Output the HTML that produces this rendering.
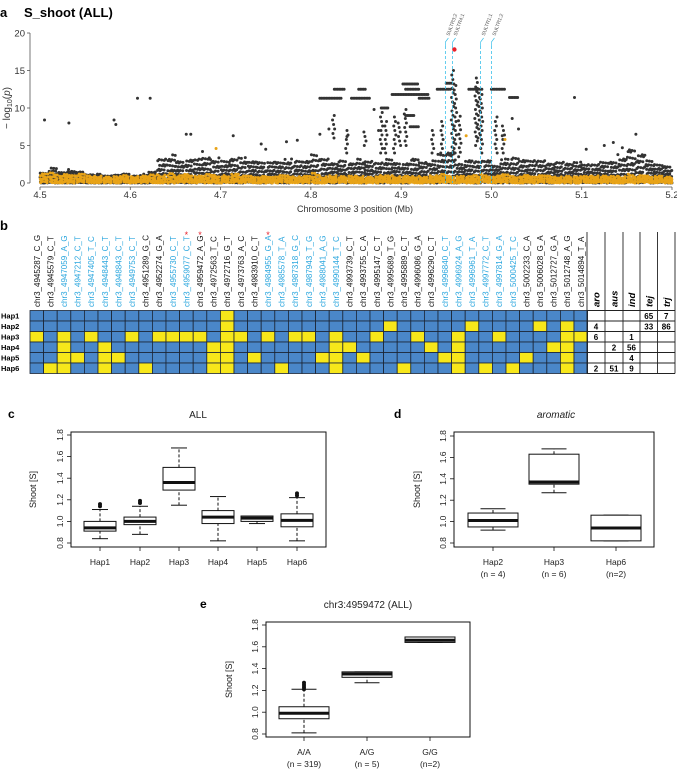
<!DOCTYPE html>
<html><head><meta charset="utf-8"><style>
html,body{margin:0;padding:0;background:#fff}
svg{display:block;font-family:"Liberation Sans",Arial,sans-serif}
</style></head><body>
<svg id="fig" width="677" height="772" viewBox="0 0 677 772">
<g id="pa"></g>
<g id="pb"></g>
<g id="pc"></g>
<g id="pd"></g>
<g id="pe"></g>
</svg>
<script>
// ---------- Panel a data ----------
const xTicks = [4.5,4.6,4.7,4.8,4.9,5.0,5.1,5.2];
const yTicks = [0,5,10,15,20];
const binStart = [4.50,4.51,4.52,4.53,4.54,4.55,4.56,4.57,4.58,4.59,4.60,4.61,4.62,4.63,4.64,4.65,4.66,4.67,4.68,4.69,4.70,4.71,4.72,4.73,4.74,4.75,4.76,4.77,4.78,4.79,4.80,4.81,4.82,4.83,4.84,4.85,4.86,4.87,4.88,4.89,4.90,4.91,4.92,4.93,4.94,4.95,4.96,4.97,4.98,4.99,5.00,5.01,5.02,5.03,5.04,5.05,5.06,5.07,5.08,5.09,5.10,5.11,5.12,5.13,5.14,5.15,5.16,5.17,5.18,5.19];
const binHeight = [1.5,2.0,1.5,1.8,1.5,1.2,1.2,1.0,1.2,1.2,1.0,1.2,1.5,3.5,3.8,3.0,3.5,3.2,3.6,3.4,3.0,3.5,3.4,3.0,3.2,2.8,3.0,3.2,3.0,3.2,3.8,3.4,3.0,3.0,2.8,3.2,3.0,3.0,3.2,2.8,3.0,3.2,3.0,3.0,4.0,4.5,2.5,3.2,3.4,3.0,2.5,3.2,3.5,3.4,3.0,3.2,3.0,2.8,2.8,2.8,2.6,2.8,2.8,3.0,3.8,4.5,4.2,3.0,2.6,2.5];
const orangeHeight = [1.3,1.5,1.3,1.2,1.2,1.0,1.0,0.9,1.0,1.0,0.9,1.0,1.2,1.2,1.5,1.0,1.2,1.0,1.3,1.2,1.0,1.2,1.0,1.0,1.0,0.9,1.0,1.0,0.9,1.0,1.5,1.0,1.0,0.9,1.0,1.0,0.9,1.0,1.0,0.9,1.0,1.0,0.9,1.0,1.2,1.0,1.0,1.0,1.2,1.0,1.0,1.2,1.0,1.2,1.0,1.0,1.0,0.9,1.0,1.0,0.9,1.0,1.0,1.0,1.0,1.2,1.0,1.0,1.0,0.9];
const isoPos = [4.505,4.532,4.582,4.584,4.608,4.622,4.662,4.667,4.714,4.745,4.773,4.785,4.81,4.82,4.84,4.87,4.875,5.092,5.16,5.135,5.125,5.105,5.145,5.012,5.015,5.023,4.972,5.03,4.75,4.695,4.68];
const isoVal = [8.4,8.0,8.4,7.8,11.3,11.3,6.5,6.5,6.3,5.2,5.5,5.7,6.5,7.2,6.2,9.8,7.0,11.4,6.5,5.4,5.0,4.5,4.7,6.3,5.8,8.6,6.3,7.2,4.5,4.6,4.2];
const isoOrange = [0,0,0,0,0,0,0,0,0,0,0,0,0,0,0,0,0,0,0,0,0,0,0,0,1,0,1,0,0,1,0];
const segFrom = [4.810,4.826,4.845,4.853,4.890,4.905,4.902,4.905,4.910,4.920,4.940,4.950,4.975,5.000,5.020,4.878];
const segTo   = [4.835,4.838,4.865,4.862,4.930,4.920,4.920,4.915,4.920,4.932,4.955,4.956,4.990,5.015,5.030,4.886];
const segVal  = [11.3,12.5,11.3,12.5,11.8,12.5,13.2,9.0,7.5,11.3,12.5,13.3,12.5,12.5,11.4,10.0];
const colPos = [4.957,4.960,4.983,4.986,4.989,4.878,4.883,4.893,4.898,4.905,4.860,4.825,4.840,4.945,4.965,4.935,5.005,5.013];
const colLo  = [3.0,4.0,5.0,6.0,4.0,4.0,4.0,4.0,5.0,5.0,5.0,6.0,4.0,4.0,3.5,4.0,4.0,4.0];
const colHi  = [15.0,13.0,14.0,13.0,12.0,9.5,8.5,9.0,8.0,10.0,7.0,9.0,7.0,8.5,9.0,7.0,9.0,8.0];
const geneNames = ["SULTR3;2","SULTR4;1","SULTR1;1","SULTR1;2"];
const genePos = [4.949,4.957,4.988,5.000];
const topHitPos = 4.959, topHitVal = 17.8;

const NS='http://www.w3.org/2000/svg';
function mk(tag, attrs, parent, txt){
  const e=document.createElementNS(NS,tag);
  for(const k in attrs) e.setAttribute(k,attrs[k]);
  if(txt!==undefined) e.textContent=txt;
  parent.appendChild(e); return e;
}
const frac = v => v - Math.floor(v);
const pa=document.getElementById('pa');
const ax = v => 40 + (v-4.5)/0.7*632;
const ay = v => 183 - v*7.5;
let t;
t=mk('text',{x:0,y:17,'font-size':13,'font-weight':'bold'},pa,'a');


t=mk('text',{x:24,y:17,'font-size':13,'font-weight':'bold'},pa,'S_shoot (ALL)');


let l=mk('line',{x1:30,y1:33,x2:30,y2:183,stroke:'#555','stroke-width':0.8},pa);


l=mk('line',{x1:40,y1:187,x2:672,y2:187,stroke:'#555','stroke-width':0.8},pa);


yTicks.forEach(v=>{
  mk('line',{x1:27,y1:ay(v),x2:30,y2:ay(v),stroke:'#555','stroke-width':0.8},pa);
  t=mk('text',{x:25,y:ay(v)+3.5,'font-size':9.5,'text-anchor':'end',fill:'#333'},pa,String(v));
  
  
});
xTicks.forEach(v=>{
  mk('line',{x1:ax(v),y1:187,x2:ax(v),y2:190,stroke:'#555','stroke-width':0.8},pa);
  t=mk('text',{x:ax(v),y:198,'font-size':9.5,'text-anchor':'middle',fill:'#333'},pa,v.toFixed(1));
  
  
});
t=mk('text',{x:355,y:212,'font-size':9,'text-anchor':'middle',fill:'#333'},pa,'Chromosome 3 position (Mb)');


t=mk('text',{transform:'translate(10,108) rotate(-90)','font-size':10,'text-anchor':'middle',fill:'#333'},pa);


t.innerHTML='− log<tspan font-size="7" dy="2">10</tspan><tspan dy="-2">(</tspan><tspan font-style="italic">p</tspan>)';
const dots=mk('g',{},pa);


function dot(x,v,c,r){ mk('circle',{cx:x,cy:ay(v),r:r||1.5,fill:c},dots); }
const DK='#333333', OR='#e8a317';
let n=0;
binStart.forEach((b,i)=>{
  const h=binHeight[i];
  for(let k=0;k<34;k++){
    n++;
    const fx=frac(0.5+n*0.7548776662);
    const fv=Math.pow(frac(0.5+n*0.5698402910),1.5);
    dot(ax(b+0.01*fx), h*fv, DK);
  }
});
segFrom.forEach((a,i)=>{
  for(let p=a;p<=segTo[i];p+=0.0018) dot(ax(p), segVal[i], DK);
});
colPos.forEach((p,i)=>{
  for(let v=colLo[i];v<=colHi[i];v+=0.6){ n++; dot(ax(p+(frac(n*0.618)-0.5)*0.003), v, DK); }
});
isoPos.forEach((p,i)=>dot(ax(p), isoVal[i], isoOrange[i]?OR:DK));
binStart.forEach((b,i)=>{
  const h=orangeHeight[i];
  for(let k=0;k<16;k++){
    n++;
    const fx=frac(0.3+n*0.7548776662);
    const fv=Math.pow(frac(0.3+n*0.5698402910),1.3);
    dot(ax(b+0.01*fx), h*fv, OR);
  }
});
genePos.forEach((p,i)=>{
  const x=ax(p);
  l=mk('line',{x1:x,y1:46,x2:x,y2:183,stroke:'#3cc0ea','stroke-width':0.8,'stroke-dasharray':'3,2'},pa);
  
  
  mk('polyline',{points:`${x},46 ${x},42 ${x+3},38`,fill:'none',stroke:'#3cc0ea','stroke-width':0.7},pa);
  t=mk('text',{transform:`translate(${x+4},36) rotate(-70)`,'font-size':5,fill:'#555'},pa,geneNames[i]);
  
  
});
const th=mk('circle',{cx:ax(topHitPos),cy:ay(topHitVal),r:2.2,fill:'#e8202a'},pa);



// ---------- Panel b data ----------
const snpNames = ["chr3_4945287_C_G","chr3_4945579_C_T","chr3_4947059_A_G","chr3_4947212_C_T","chr3_4947405_T_C","chr3_4948443_C_T","chr3_4948843_C_T","chr3_4949753_C_T","chr3_4951289_G_C","chr3_4952274_G_A","chr3_4955730_C_T","chr3_4959077_C_T","chr3_4959472_A_G","chr3_4972563_T_C","chr3_4972716_G_T","chr3_4973763_A_C","chr3_4983910_C_T","chr3_4984955_G_A","chr3_4985578_T_A","chr3_4987318_G_C","chr3_4987943_T_G","chr3_4988041_A_G","chr3_4990144_T_C","chr3_4993739_C_T","chr3_4993755_C_A","chr3_4995147_C_T","chr3_4995689_T_G","chr3_4995889_C_T","chr3_4996086_G_A","chr3_4996290_C_T","chr3_4996840_C_T","chr3_4996924_A_G","chr3_4996961_T_A","chr3_4997772_C_T","chr3_4997814_G_A","chr3_5000425_T_C","chr3_5002233_C_A","chr3_5006028_G_A","chr3_5012727_G_A","chr3_5012748_A_G","chr3_5014894_T_A"];
const snpBlue = [0,0,1,1,1,1,1,1,0,0,1,1,0,0,0,0,0,1,1,1,1,1,1,0,0,0,0,0,0,0,1,1,1,1,1,1,0,0,0,0,0];
const snpStar = [11,12,17];
const hapNames = ["Hap1","Hap2","Hap3","Hap4","Hap5","Hap6"];
const hapYellow = [
  [14],
  [14,26,32,37,39],
  [0,2,4,7,9,10,11,12,14,15,17,19,20,22,25,28,31,34,39,40],
  [2,5,13,14,22,23,29,31,38,39],
  [2,3,5,6,13,14,16,21,22,24,30,31,36,39],
  [1,2,5,8,13,14,18,22,27,31,33,35,39]
];
const groupNames = ["aro","aus","ind","tej","trj"];
const groupCounts = [
  ["","","","65","7"],
  ["4","","","33","86"],
  ["6","","1","",""],
  ["","2","56","",""],
  ["","","4","",""],
  ["2","51","9","",""]
];
const pb=document.getElementById('pb');
t=mk('text',{x:0,y:230,'font-size':13,'font-weight':'bold'},pb,'b');


const gx0=30, cw=13.6, gy0=310.5, rh=10.5;
snpNames.forEach((nm,i)=>{
  const cx=gx0+cw*i+cw/2+3;
  t=mk('text',{transform:`translate(${cx},307) rotate(-90)`,'font-size':8,fill:snpBlue[i]?'#2aa6de':'#111'},pb,nm);
  
  
});
snpStar.forEach(i=>{
  t=mk('text',{x:gx0+cw*i+cw/2,y:238,'font-size':9,'text-anchor':'middle',fill:'#e8202a'},pb,'*');
  
  
});
hapNames.forEach((h,r)=>{
  const y=gy0+rh*r;
  t=mk('text',{x:1,y:y+8,'font-size':7.5,'font-weight':'bold'},pb,h);
  
  
  snpNames.forEach((nm,c)=>{
    const yel=hapYellow[r].indexOf(c)>=0;
    const rc=mk('rect',{x:gx0+cw*c,y:y,width:cw,height:rh,fill:yel?'#f7e71a':'#4a87c9',stroke:'#1b2535','stroke-width':0.8},pb);
    
    
  });
});
const tx=[587,605,623,640,657.5,675];
tx.forEach(x=>mk('line',{x1:x,y1:232,x2:x,y2:gy0+rh*6,stroke:'#222','stroke-width':0.9},pb));
for(let r=0;r<=6;r++) mk('line',{x1:587,y1:gy0+rh*r,x2:675,y2:gy0+rh*r,stroke:'#222','stroke-width':0.9},pb);
groupNames.forEach((g,i)=>{
  t=mk('text',{transform:`translate(${(tx[i]+tx[i+1])/2+3.5},307) rotate(-90)`,'font-size':9.5,'font-weight':'bold','font-style':'italic'},pb,g);
  
  
});
groupCounts.forEach((row,r)=>row.forEach((v,i)=>{
  if(!v) return;
  t=mk('text',{x:(tx[i]+tx[i+1])/2,y:gy0+rh*r+8.3,'font-size':8,'font-weight':'bold','text-anchor':'middle'},pb,v);
  
  
}));

// ---------- Boxplots ----------
const cCats = ["Hap1","Hap2","Hap3","Hap4","Hap5","Hap6"];
const cWlo = [0.84,0.88,1.15,0.82,0.98,0.82];
const cQ1  = [0.91,0.97,1.29,0.98,1.00,0.95];
const cMed = [0.94,1.00,1.36,1.04,1.03,1.01];
const cQ3  = [1.00,1.04,1.50,1.10,1.05,1.07];
const cWhi = [1.11,1.14,1.68,1.23,1.05,1.22];
const cOut = [[1.14,1.16],[1.17,1.19],[],[],[],[1.24,1.26]];

const dCats = ["Hap2","Hap3","Hap6"];
const dSub  = ["(n = 4)","(n = 6)","(n=2)"];
const dWlo = [0.92,1.27,0.82];
const dQ1  = [0.95,1.35,0.82];
const dMed = [1.01,1.37,0.94];
const dQ3  = [1.08,1.63,1.06];
const dWhi = [1.12,1.68,1.06];
const dOut = [[],[],[]];

const eCats = ["A/A","A/G","G/G"];
const eSub  = ["(n = 319)","(n = 5)","(n=2)"];
const eWlo = [0.81,1.27,1.64];
const eQ1  = [0.94,1.32,1.64];
const eMed = [0.99,1.35,1.66];
const eQ3  = [1.05,1.37,1.69];
const eWhi = [1.21,1.37,1.69];
const eOut = [[1.21,1.23,1.25,1.27],[],[]];
const boxTicks = [0.8,1.0,1.2,1.4,1.6,1.8];

function boxplot(g, o){
  const sy = v => o.y08 - (v-0.8)/1.0*(o.y08-o.y18);
  mk('rect',{x:o.x0,y:o.yt,width:o.x1-o.x0,height:o.yb-o.yt,fill:'none',stroke:'#111','stroke-width':1},g);
  boxTicks.forEach(v=>{
    mk('line',{x1:o.x0-4,y1:sy(v),x2:o.x0,y2:sy(v),stroke:'#111','stroke-width':0.8},g);
    t=mk('text',{transform:`translate(${o.x0-8},${sy(v)}) rotate(-90)`,'font-size':8.5,'text-anchor':'middle',fill:'#222'},g,v.toFixed(1));
    
    
  });
  t=mk('text',{transform:`translate(${o.ylx},${(o.yt+o.yb)/2}) rotate(-90)`,'font-size':9,'text-anchor':'middle',fill:'#222'},g,'Shoot [S]');
  
  
  t=mk('text',{x:o.tx,y:o.ty,'font-size':10,'text-anchor':'middle',fill:'#222','font-style':o.italic?'italic':'normal'},g,o.title);
  
  
  t=mk('text',{x:o.lx,y:o.ty,'font-size':12,'font-weight':'bold'},g,o.letter);
  
  
  const bw=o.bw;
  o.cats.forEach((c,i)=>{
    const cx=o.px[i];
    const bg=mk('g',{},g);
    
    
    mk('line',{x1:cx,y1:sy(o.wlo[i]),x2:cx,y2:sy(o.q1[i]),stroke:'#111','stroke-width':1,'stroke-dasharray':'3,2'},bg);
    mk('line',{x1:cx,y1:sy(o.q3[i]),x2:cx,y2:sy(o.whi[i]),stroke:'#111','stroke-width':1,'stroke-dasharray':'3,2'},bg);
    mk('line',{x1:cx-bw/4,y1:sy(o.wlo[i]),x2:cx+bw/4,y2:sy(o.wlo[i]),stroke:'#111','stroke-width':1},bg);
    mk('line',{x1:cx-bw/4,y1:sy(o.whi[i]),x2:cx+bw/4,y2:sy(o.whi[i]),stroke:'#111','stroke-width':1},bg);
    mk('rect',{x:cx-bw/2,y:sy(o.q3[i]),width:bw,height:sy(o.q1[i])-sy(o.q3[i]),fill:'#fff',stroke:'#111','stroke-width':1},bg);
    mk('line',{x1:cx-bw/2,y1:sy(o.med[i]),x2:cx+bw/2,y2:sy(o.med[i]),stroke:'#111','stroke-width':3},bg);
    o.out[i].forEach(v=>mk('circle',{cx:cx,cy:sy(v),r:2,fill:'#111'},bg));
    mk('line',{x1:cx,y1:o.yb,x2:cx,y2:o.yb+4,stroke:'#111','stroke-width':0.8},g);
    t=mk('text',{x:cx,y:o.yb+18,'font-size':8.5,'text-anchor':'middle',fill:'#222'},g,c);
    
    
    if(o.sub){
      t=mk('text',{x:cx,y:o.yb+30,'font-size':8.5,'text-anchor':'middle',fill:'#222'},g,o.sub[i]);
      
      
    }
  });
}
boxplot(document.getElementById('pc'),{x0:71,x1:326,yt:432,yb:547,y08:543,y18:435,cats:cCats,px:[100,140,179,218,257,297],bw:32,
  wlo:cWlo,q1:cQ1,med:cMed,q3:cQ3,whi:cWhi,out:cOut,title:'ALL',tx:198,ty:418,lx:8,letter:'c',ylx:36});
boxplot(document.getElementById('pd'),{x0:454,x1:654,yt:432,yb:547,y08:543,y18:436,cats:dCats,sub:dSub,px:[493,554,616],bw:50,
  wlo:dWlo,q1:dQ1,med:dMed,q3:dQ3,whi:dWhi,out:dOut,title:'aromatic',italic:true,tx:556,ty:418,lx:394,letter:'d',ylx:420});
boxplot(document.getElementById('pe'),{x0:266,x1:470,yt:622,yb:737,y08:734,y18:625,cats:eCats,sub:eSub,px:[304,367,430],bw:50,
  wlo:eWlo,q1:eQ1,med:eMed,q3:eQ3,whi:eWhi,out:eOut,title:'chr3:4959472 (ALL)',tx:368,ty:608,lx:200,letter:'e',ylx:232});
</script>
</body></html>
